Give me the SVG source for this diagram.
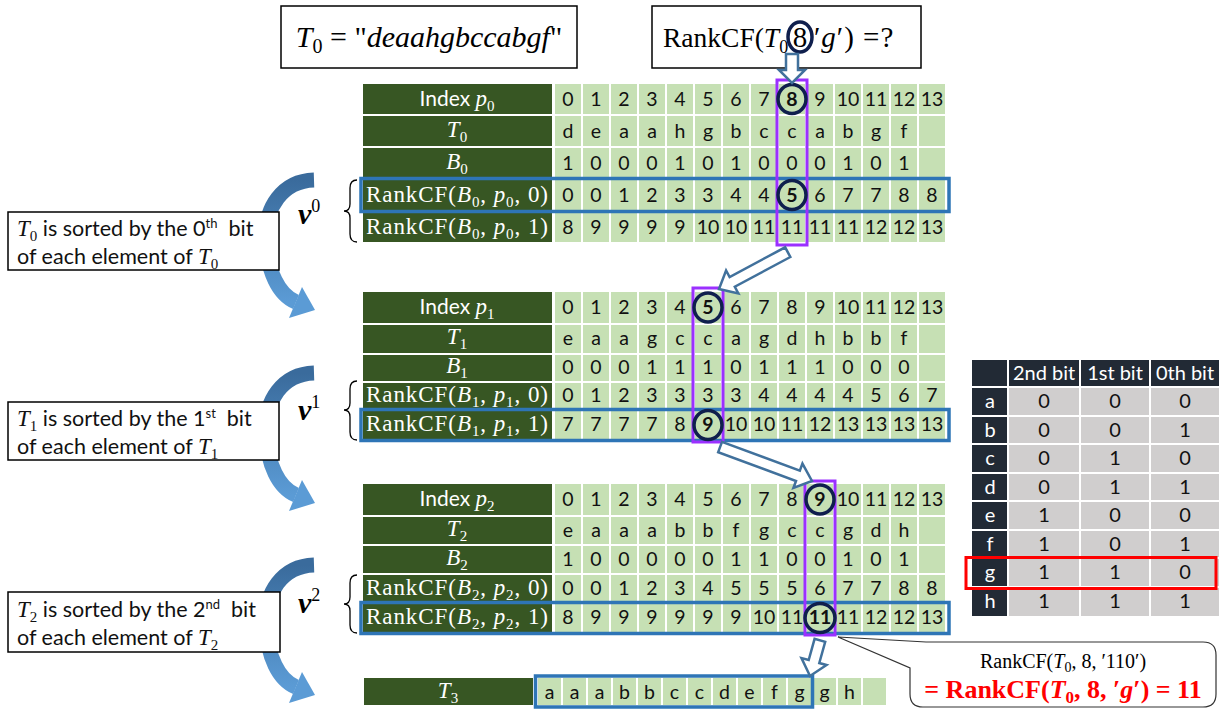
<svg xmlns="http://www.w3.org/2000/svg" width="1232" height="709" viewBox="0 0 1232 709">
<style>
.hd{fill:#375623}
.cl{fill:url(#cells)}
.cl3{fill:url(#cells3)}
.c{font-family:Lato,"Liberation Sans",sans-serif;font-size:19.5px;fill:#111;text-anchor:middle}
.b{font-weight:bold}
.ht{font-family:"Liberation Serif",serif;font-size:23px;fill:#fff;text-anchor:middle}
.hs{font-family:Lato,"Liberation Sans",sans-serif;font-size:21px}
.it{font-style:italic}
.sel{fill:none;stroke:#2e75b6;stroke-width:3.5}
.col{fill:none;stroke:#9b30ff;stroke-width:3}
.ring{fill:none;stroke:#0f1f4d;stroke-width:3.5}
.hollow{fill:#fff;stroke:#41719c;stroke-width:2.5}
.box{fill:#fff;stroke:#000;stroke-width:1.5}
.note{font-family:Lato,"Liberation Sans",sans-serif;font-size:21.5px;fill:#111}
.ser{font-family:"Liberation Serif",serif}
.brace{fill:none;stroke:#000;stroke-width:1.3}
.vl{font-family:"Liberation Serif",serif;font-weight:bold;font-style:italic;font-size:30px;fill:#000}
.bt{fill:#222a35}
.bg{fill:#d0cece}
.bw{font-family:Lato,"Liberation Sans",sans-serif;font-size:20px;fill:#fff;text-anchor:middle}
.bk{font-family:Lato,"Liberation Sans",sans-serif;font-size:20px;fill:#111;text-anchor:middle}
</style>
<defs>
  <pattern id="cells" patternUnits="userSpaceOnUse" x="555" y="0" width="28" height="709">
    <rect width="26" height="709" fill="#c6e0b4"/>
  </pattern>
  <pattern id="cells3" patternUnits="userSpaceOnUse" x="538" y="0" width="25" height="709">
    <rect width="23" height="709" fill="#c6e0b4"/>
  </pattern>
  <linearGradient id="curlfill" x1="0" y1="0" x2="0" y2="1">
    <stop offset="0" stop-color="#3a6b9c"/>
    <stop offset="1" stop-color="#5b9bd5"/>
  </linearGradient>
  <g id="curl">
    <path d="M314 180 C282 181 265 208 266 238 C267 272 279 295 296 302" fill="none" stroke="url(#curlfill)" stroke-width="15"/>
    <polygon points="302,287 315,310 289,318" fill="#5b9bd5"/>
  </g>
</defs>

<!-- curved sort arrows on the left, drawn under the note boxes -->
<g id="curls">
  <use href="#curl"/>
  <use href="#curl" y="193"/>
  <use href="#curl" y="385"/>
</g>

<!-- title boxes -->
<g id="text-box">
  <rect class="box" x="281" y="6" width="296" height="62"/>
  <text class="ser" x="429" y="47" font-size="30" text-anchor="middle"><tspan class="it">T</tspan><tspan dy="6" font-size="20">0</tspan><tspan dy="-6"> = "</tspan><tspan class="it">deaahgbccabgf</tspan>"</text>
</g>
<g id="query-box">
  <rect class="box" x="652" y="6" width="269" height="62"/>
  <text class="ser" x="663" y="47" font-size="27.5">RankCF(<tspan class="it">T</tspan><tspan dy="6" font-size="18">0</tspan></text>
  <text class="ser" x="800" y="47" font-size="29" text-anchor="middle">8</text>
  <text class="ser" x="814" y="47" font-size="29" letter-spacing="1">′<tspan class="it">g</tspan>′) =?</text>
  <ellipse class="ring" cx="800" cy="37" rx="12" ry="15"/>
</g>

<!-- table for bit 0 -->
<g id="table0">
  <rect class="hd" x="363" y="84" width="189" height="30"/>
  <rect class="hd" x="363" y="116" width="189" height="30"/>
  <rect class="hd" x="363" y="148" width="189" height="30"/>
  <rect class="hd" x="363" y="180" width="189" height="30"/>
  <rect class="hd" x="363" y="212" width="189" height="30"/>
  <rect class="cl" x="555" y="84" width="392" height="30"/>
  <rect class="cl" x="555" y="116" width="392" height="30"/>
  <rect class="cl" x="555" y="148" width="392" height="30"/>
  <rect class="cl" x="555" y="180" width="392" height="30"/>
  <rect class="cl" x="555" y="212" width="392" height="30"/>
  <text class="ht" x="457" y="106"><tspan class="hs">Index </tspan><tspan class="it">p</tspan><tspan dy="5" font-size="15">0</tspan></text>
  <text class="ht" x="457" y="137"><tspan class="it">T</tspan><tspan dy="5" font-size="15">0</tspan></text>
  <text class="ht" x="457" y="169"><tspan class="it">B</tspan><tspan dy="5" font-size="15">0</tspan></text>
  <text class="ht" x="457" y="202" textLength="182">RankCF(<tspan class="it">B</tspan><tspan dy="5" font-size="15">0</tspan><tspan dy="-5">, </tspan><tspan class="it">p</tspan><tspan dy="5" font-size="15">0</tspan><tspan dy="-5">, 0)</tspan></text>
  <text class="ht" x="457" y="234" textLength="182">RankCF(<tspan class="it">B</tspan><tspan dy="5" font-size="15">0</tspan><tspan dy="-5">, </tspan><tspan class="it">p</tspan><tspan dy="5" font-size="15">0</tspan><tspan dy="-5">, 1)</tspan></text>
  <text class="c" y="106"><tspan x="568">0</tspan><tspan x="596">1</tspan><tspan x="624">2</tspan><tspan x="652">3</tspan><tspan x="680">4</tspan><tspan x="708">5</tspan><tspan x="736">6</tspan><tspan x="764">7</tspan><tspan x="792" class="b">8</tspan><tspan x="820">9</tspan><tspan x="848">10</tspan><tspan x="876">11</tspan><tspan x="904">12</tspan><tspan x="932">13</tspan></text>
  <text class="c" y="138" x="568 596 624 652 680 708 736 764 792 820 848 876 904">deaahgbccabgf</text>
  <text class="c" y="170" x="568 596 624 652 680 708 736 764 792 820 848 876 904">1000101000101</text>
  <text class="c" y="202" x="568 596 624 652 680 708 736 764 792 820 848 876 904 932">00123344<tspan class="b">5</tspan>67788</text>
  <text class="c" y="234"><tspan x="568">8</tspan><tspan x="596">9</tspan><tspan x="624">9</tspan><tspan x="652">9</tspan><tspan x="680">9</tspan><tspan x="708">10</tspan><tspan x="736">10</tspan><tspan x="764">11</tspan><tspan x="792">11</tspan><tspan x="820">11</tspan><tspan x="848">11</tspan><tspan x="876">12</tspan><tspan x="904">12</tspan><tspan x="932">13</tspan></text>
  <rect class="sel" x="361" y="178.5" width="588" height="33"/>
  <rect class="col" x="777" y="80" width="30" height="165"/>
  <ellipse class="ring" cx="792" cy="99" rx="14" ry="14.5"/>
  <ellipse class="ring" cx="792" cy="195" rx="14" ry="14.5"/>
</g>

<!-- table for bit 1 -->
<g id="table1">
  <rect class="hd" x="363" y="292" width="189" height="31"/>
  <rect class="hd" x="363" y="325" width="189" height="28"/>
  <rect class="hd" x="363" y="355" width="189" height="26"/>
  <rect class="hd" x="363" y="383" width="189" height="26"/>
  <rect class="hd" x="363" y="411" width="189" height="28"/>
  <rect class="cl" x="555" y="292" width="392" height="31"/>
  <rect class="cl" x="555" y="325" width="392" height="28"/>
  <rect class="cl" x="555" y="355" width="392" height="26"/>
  <rect class="cl" x="555" y="383" width="392" height="26"/>
  <rect class="cl" x="555" y="411" width="392" height="28"/>
  <text class="ht" x="457" y="314"><tspan class="hs">Index </tspan><tspan class="it">p</tspan><tspan dy="5" font-size="15">1</tspan></text>
  <text class="ht" x="457" y="344"><tspan class="it">T</tspan><tspan dy="5" font-size="15">1</tspan></text>
  <text class="ht" x="457" y="373"><tspan class="it">B</tspan><tspan dy="5" font-size="15">1</tspan></text>
  <text class="ht" x="457" y="402" textLength="182">RankCF(<tspan class="it">B</tspan><tspan dy="5" font-size="15">1</tspan><tspan dy="-5">, </tspan><tspan class="it">p</tspan><tspan dy="5" font-size="15">1</tspan><tspan dy="-5">, 0)</tspan></text>
  <text class="ht" x="457" y="431" textLength="182">RankCF(<tspan class="it">B</tspan><tspan dy="5" font-size="15">1</tspan><tspan dy="-5">, </tspan><tspan class="it">p</tspan><tspan dy="5" font-size="15">1</tspan><tspan dy="-5">, 1)</tspan></text>
  <text class="c" y="314"><tspan x="568">0</tspan><tspan x="596">1</tspan><tspan x="624">2</tspan><tspan x="652">3</tspan><tspan x="680">4</tspan><tspan x="708" class="b">5</tspan><tspan x="736">6</tspan><tspan x="764">7</tspan><tspan x="792">8</tspan><tspan x="820">9</tspan><tspan x="848">10</tspan><tspan x="876">11</tspan><tspan x="904">12</tspan><tspan x="932">13</tspan></text>
  <text class="c" y="345" x="568 596 624 652 680 708 736 764 792 820 848 876 904">eaagccagdhbbf</text>
  <text class="c" y="374" x="568 596 624 652 680 708 736 764 792 820 848 876 904">0001110111000</text>
  <text class="c" y="402" x="568 596 624 652 680 708 736 764 792 820 848 876 904 932">01233334444567</text>
  <text class="c" y="431"><tspan x="568">7</tspan><tspan x="596">7</tspan><tspan x="624">7</tspan><tspan x="652">7</tspan><tspan x="680">8</tspan><tspan x="708" class="b">9</tspan><tspan x="736">10</tspan><tspan x="764">10</tspan><tspan x="792">11</tspan><tspan x="820">12</tspan><tspan x="848">13</tspan><tspan x="876">13</tspan><tspan x="904">13</tspan><tspan x="932">13</tspan></text>
  <rect class="sel" x="361" y="409.5" width="588" height="31"/>
  <rect class="col" x="693" y="288" width="30" height="154"/>
  <ellipse class="ring" cx="708" cy="307.5" rx="14" ry="14.5"/>
  <ellipse class="ring" cx="708" cy="425" rx="14" ry="14.5"/>
</g>

<!-- table for bit 2 -->
<g id="table2">
  <rect class="hd" x="363" y="484" width="189" height="31"/>
  <rect class="hd" x="363" y="517" width="189" height="27"/>
  <rect class="hd" x="363" y="546" width="189" height="27"/>
  <rect class="hd" x="363" y="575" width="189" height="27"/>
  <rect class="hd" x="363" y="604" width="189" height="28"/>
  <rect class="cl" x="555" y="484" width="392" height="31"/>
  <rect class="cl" x="555" y="517" width="392" height="27"/>
  <rect class="cl" x="555" y="546" width="392" height="27"/>
  <rect class="cl" x="555" y="575" width="392" height="27"/>
  <rect class="cl" x="555" y="604" width="392" height="28"/>
  <text class="ht" x="457" y="506"><tspan class="hs">Index </tspan><tspan class="it">p</tspan><tspan dy="5" font-size="15">2</tspan></text>
  <text class="ht" x="457" y="536"><tspan class="it">T</tspan><tspan dy="5" font-size="15">2</tspan></text>
  <text class="ht" x="457" y="565"><tspan class="it">B</tspan><tspan dy="5" font-size="15">2</tspan></text>
  <text class="ht" x="457" y="595" textLength="182">RankCF(<tspan class="it">B</tspan><tspan dy="5" font-size="15">2</tspan><tspan dy="-5">, </tspan><tspan class="it">p</tspan><tspan dy="5" font-size="15">2</tspan><tspan dy="-5">, 0)</tspan></text>
  <text class="ht" x="457" y="624" textLength="182">RankCF(<tspan class="it">B</tspan><tspan dy="5" font-size="15">2</tspan><tspan dy="-5">, </tspan><tspan class="it">p</tspan><tspan dy="5" font-size="15">2</tspan><tspan dy="-5">, 1)</tspan></text>
  <text class="c" y="506"><tspan x="568">0</tspan><tspan x="596">1</tspan><tspan x="624">2</tspan><tspan x="652">3</tspan><tspan x="680">4</tspan><tspan x="708">5</tspan><tspan x="736">6</tspan><tspan x="764">7</tspan><tspan x="792">8</tspan><tspan x="820" class="b">9</tspan><tspan x="848">10</tspan><tspan x="876">11</tspan><tspan x="904">12</tspan><tspan x="932">13</tspan></text>
  <text class="c" y="537" x="568 596 624 652 680 708 736 764 792 820 848 876 904">eaaabbfgccgdh</text>
  <text class="c" y="566" x="568 596 624 652 680 708 736 764 792 820 848 876 904">1000001100101</text>
  <text class="c" y="595" x="568 596 624 652 680 708 736 764 792 820 848 876 904 932">00123455567788</text>
  <text class="c" y="624"><tspan x="568">8</tspan><tspan x="596">9</tspan><tspan x="624">9</tspan><tspan x="652">9</tspan><tspan x="680">9</tspan><tspan x="708">9</tspan><tspan x="736">9</tspan><tspan x="764">10</tspan><tspan x="792">11</tspan><tspan x="820" class="b">11</tspan><tspan x="848">11</tspan><tspan x="876">12</tspan><tspan x="904">12</tspan><tspan x="932">13</tspan></text>
  <rect class="sel" x="361" y="602.5" width="588" height="31"/>
  <rect class="col" x="805" y="481" width="30" height="154"/>
  <ellipse class="ring" cx="820" cy="499.5" rx="14" ry="14.5"/>
  <ellipse class="ring" cx="820" cy="618" rx="15" ry="14.5"/>
</g>

<!-- fully sorted sequence -->
<g id="table3">
  <rect class="hd" x="364" y="678" width="169" height="27"/>
  <rect class="cl3" x="538" y="678" width="348" height="27"/>
  <text class="ht" x="448" y="698"><tspan class="it">T</tspan><tspan dy="5" font-size="15">3</tspan></text>
  <text class="c" y="699" x="549.5 574.5 599.5 624.5 649.5 674.5 699.5 724.5 749.5 774.5 799.5 824.5 849.5">aaabbccdefggh</text>
  <rect class="sel" x="535.5" y="676" width="277" height="31"/>
</g>

<!-- braces grouping the RankCF rows -->
<g id="v0">
  <text class="vl" x="298" y="224">v<tspan dy="-12" font-size="18" font-weight="normal" font-style="normal">0</tspan></text>
  <path class="brace" d="M357 180 Q350 180 350 188 L350 204 Q350 211 344 211 Q350 211 350 218 L350 234 Q350 242 357 242"/>
</g>
<g id="v1">
  <text class="vl" x="298" y="420">v<tspan dy="-12" font-size="18" font-weight="normal" font-style="normal">1</tspan></text>
  <path class="brace" d="M357 381 Q350 381 350 389 L350 403 Q350 410 344 410 Q350 410 350 417 L350 432 Q350 440 357 440"/>
</g>
<g id="v2">
  <text class="vl" x="298" y="613">v<tspan dy="-12" font-size="18" font-weight="normal" font-style="normal">2</tspan></text>
  <path class="brace" d="M357 575 Q350 575 350 583 L350 597 Q350 604 344 604 Q350 604 350 611 L350 625 Q350 633 357 633"/>
</g>

<!-- notes on the left -->
<g id="note0">
  <rect class="box" x="8" y="212" width="271" height="58"/>
  <text class="note" x="17" y="236"><tspan class="ser it" font-size="23">T</tspan><tspan class="ser" dy="5" font-size="15">0</tspan><tspan dy="-5"> is sorted by the 0</tspan><tspan dy="-8" font-size="13">th</tspan><tspan dy="8">&#160; bit</tspan></text>
  <text class="note" x="17" y="264">of each element of <tspan class="ser it" font-size="23">T</tspan><tspan class="ser" dy="5" font-size="15">0</tspan></text>
</g>
<g id="note1">
  <rect class="box" x="8" y="402" width="271" height="58"/>
  <text class="note" x="17" y="426"><tspan class="ser it" font-size="23">T</tspan><tspan class="ser" dy="5" font-size="15">1</tspan><tspan dy="-5"> is sorted by the 1</tspan><tspan dy="-8" font-size="13">st</tspan><tspan dy="8">&#160; bit</tspan></text>
  <text class="note" x="17" y="454">of each element of <tspan class="ser it" font-size="23">T</tspan><tspan class="ser" dy="5" font-size="15">1</tspan></text>
</g>
<g id="note2">
  <rect class="box" x="8" y="592" width="272" height="60"/>
  <text class="note" x="17" y="617"><tspan class="ser it" font-size="23">T</tspan><tspan class="ser" dy="5" font-size="15">2</tspan><tspan dy="-5"> is sorted by the 2</tspan><tspan dy="-8" font-size="13">nd</tspan><tspan dy="8">&#160; bit</tspan></text>
  <text class="note" x="17" y="645">of each element of <tspan class="ser it" font-size="23">T</tspan><tspan class="ser" dy="5" font-size="15">2</tspan></text>
</g>

<!-- bit code table -->
<g id="codes">
  <rect class="bt" x="972" y="360" width="35" height="26"/>
  <rect class="bt" x="1009" y="360" width="70" height="26"/>
  <rect class="bt" x="1081" y="360" width="68" height="26"/>
  <rect class="bt" x="1151" y="360" width="68" height="26"/>
  <text class="bw" y="380"><tspan x="1044">2nd bit</tspan><tspan x="1115">1st bit</tspan><tspan x="1185">0th bit</tspan></text>
  <rect class="bt" x="972" y="388" width="35" height="228"/>
  <g class="bg">
    <rect x="1009" y="388" width="70" height="27"/><rect x="1081" y="388" width="68" height="27"/><rect x="1151" y="388" width="68" height="27"/>
    <rect x="1009" y="417" width="70" height="26"/><rect x="1081" y="417" width="68" height="26"/><rect x="1151" y="417" width="68" height="26"/>
    <rect x="1009" y="445" width="70" height="27"/><rect x="1081" y="445" width="68" height="27"/><rect x="1151" y="445" width="68" height="27"/>
    <rect x="1009" y="474" width="70" height="26"/><rect x="1081" y="474" width="68" height="26"/><rect x="1151" y="474" width="68" height="26"/>
    <rect x="1009" y="502" width="70" height="27"/><rect x="1081" y="502" width="68" height="27"/><rect x="1151" y="502" width="68" height="27"/>
    <rect x="1009" y="531" width="70" height="26"/><rect x="1081" y="531" width="68" height="26"/><rect x="1151" y="531" width="68" height="26"/>
    <rect x="1009" y="559" width="70" height="27"/><rect x="1081" y="559" width="68" height="27"/><rect x="1151" y="559" width="68" height="27"/>
    <rect x="1009" y="588" width="70" height="28"/><rect x="1081" y="588" width="68" height="28"/><rect x="1151" y="588" width="68" height="28"/>
  </g>
  <g fill="#fff">
    <rect x="972" y="415" width="35" height="2"/><rect x="972" y="443" width="35" height="2"/><rect x="972" y="472" width="35" height="2"/>
    <rect x="972" y="500" width="35" height="2"/><rect x="972" y="529" width="35" height="2"/><rect x="972" y="557" width="35" height="2"/>
    <rect x="972" y="586" width="35" height="2"/>
  </g>
  <text class="bw" x="990 990 990 990 990 990 990 990" y="408 437 465 494 522 551 579 608">abcdefgh</text>
  <text class="bk" x="1044 1044 1044 1044 1044 1044 1044 1044" y="408 437 465 494 522 551 579 608">00001111</text>
  <text class="bk" x="1115 1115 1115 1115 1115 1115 1115 1115" y="408 437 465 494 522 551 579 608">00110011</text>
  <text class="bk" x="1185 1185 1185 1185 1185 1185 1185 1185" y="408 437 465 494 522 551 579 608">01010101</text>
  <rect x="966" y="557.5" width="250" height="31" fill="none" stroke="#ff0000" stroke-width="3"/>
</g>

<!-- result callout -->
<g id="callout">
  <path d="M838 637 L926 642 H1203 Q1216 642 1216 655 V694 Q1216 707 1203 707 H923 Q910 707 910 694 V668 Z" fill="#fff" stroke="#333" stroke-width="1.2"/>
  <text class="ser" x="1063" y="668" font-size="20" text-anchor="middle">RankCF(<tspan class="it">T</tspan><tspan dy="4" font-size="14">0</tspan><tspan dy="-4">, 8, ′110′)</tspan></text>
  <text class="ser" x="1063" y="698" font-size="26" font-weight="bold" fill="#ff0000" text-anchor="middle">= RankCF(<tspan class="it">T</tspan><tspan dy="5" font-size="17">0</tspan><tspan dy="-5">, 8, ′</tspan><tspan class="it">g</tspan>′) = 11</text>
</g>

<!-- hollow arrows linking the selected positions -->
<g id="connectors" class="hollow">
  <polygon points="786,54 798,54 798,70 805,70 792,83 779,70 786,70"/>
  <polygon transform="translate(719,289) rotate(151.8)" points="-78,-5.5 -15,-5.5 -15,-13 0,0 -15,13 -15,5.5 -78,5.5"/>
  <polygon transform="translate(812,481) rotate(20.3)" points="-98,-5.5 -15,-5.5 -15,-13 0,0 -15,13 -15,5.5 -98,5.5"/>
  <polygon transform="translate(810,676) rotate(105.5)" points="-37,-5.5 -15,-5.5 -15,-13 0,0 -15,13 -15,5.5 -37,5.5"/>
</g>
</svg>
